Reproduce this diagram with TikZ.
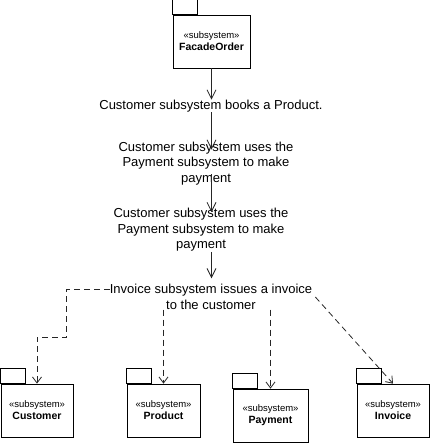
\documentclass[tikz,border=0pt]{standalone}
\usepackage{fontspec}
\setmainfont{Liberation Sans}
\usetikzlibrary{arrows.meta}
\newcommand{\pkgname}[1]{\fontsize{9.5}{12}\selectfont «subsystem»\\\fontsize{10.5}{12}\selectfont\bfseries #1}
\tikzset{
  every picture/.style={>={Straight Barb[length=9pt,width=9pt]}},
  subsys/.style={draw=black, line width=0.8pt, minimum width=72pt, minimum height=53pt,
                 inner sep=0pt, align=center},
  pkgtab/.style={draw=black, line width=0.8pt},
  note/.style={inner sep=0pt, align=center, font=\fontsize{13}{15.5}\selectfont},
  flow/.style={->, line width=0.8pt, draw=black!85},
  dep/.style={-{Straight Barb[length=6pt,width=9pt]}, line width=0.8pt, draw=black!85,
              dash pattern=on 6pt off 4pt},
}

\begin{document}
\begin{tikzpicture}
  \useasboundingbox (0pt,0pt) rectangle (432pt,-444pt);
  % subsystems
  \node[subsys, minimum width=77pt] (facade) at (211.5pt,-41.5pt) {\pkgname{FacadeOrder}};
  \node[subsys] (cust) at (37pt,-410.5pt) {\pkgname{Customer}};
  \node[subsys, minimum width=73pt] (prod) at (163.5pt,-410.5pt) {\pkgname{Product}};
  \node[subsys, minimum width=75pt] (pay) at (270.5pt,-415.5pt) {\pkgname{Payment}};
  \node[subsys] (inv) at (393pt,-410.5pt) {\pkgname{Invoice}};
  \foreach \p in {facade,cust,prod,pay,inv}
    \draw[pkgtab] (\p.north west) rectangle ++(25pt,15pt);
  % notes
  \node[note] (book) at (211pt,-106pt) {Customer subsystem books a Product.};
  \node[note] (uses) at (206pt,-163.5pt) {Customer subsystem uses the\\Payment subsystem to make\\payment};
  \node[note] (usesb) at (201pt,-230pt) {Customer subsystem uses the\\Payment subsystem to make\\payment};
  \node[note] (issue) at (211pt,-297pt) {Invoice subsystem issues a invoice\\to the customer};
  % flow
  \draw[flow] (facade.south) -- (book.north -| facade.south);
  \draw[flow, shorten >=-8pt] (book.south -| facade.south) -- (uses.north -| facade.south);
  \draw[flow, shorten <=-11pt, shorten >=-4pt] (uses.south -| facade.south) -- (usesb.north -| facade.south);
  \draw[flow, shorten >=6pt] (usesb.south -| facade.south) -- (issue.north -| facade.south);
  % dependencies
  \draw[dep] ([yshift=8pt]issue.west) -- ++(-43pt,0pt) -- ++(0pt,-48pt) -| (cust.north);
  \draw[dep] (issue.south -| prod.north) -- (prod.north);
  \draw[dep] (issue.south -| pay.north) -- (pay.north);
  \draw[dep] ([xshift=3pt]issue.east) -- (inv.north);
\end{tikzpicture}
\end{document}
